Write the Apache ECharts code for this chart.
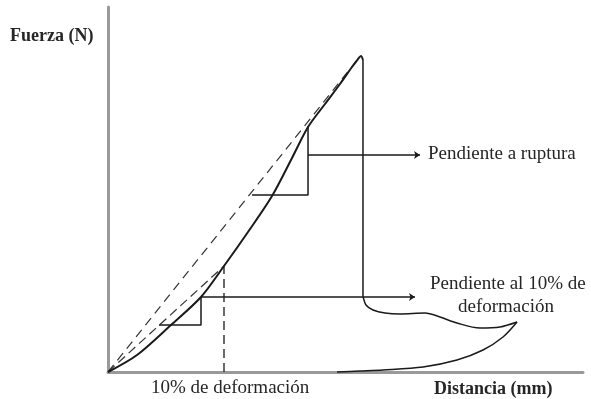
<!DOCTYPE html>
<html>
<head>
<meta charset="utf-8">
<script src="https://cdn.jsdelivr.net/npm/echarts@6/dist/echarts.min.js"></script>
<style>html,body{margin:0;padding:0;background:#fff;}#c{width:591px;height:399px;}</style>
</head>
<body>
<div id="c"></div>
<script>
// Data (x: distance, y: force, arbitrary units 0-100)
const loadCurve = [[0,0],[6.11,4.66],[13.26,12.88],[19.58,20.55],[24.42,29.04],[29.47,38.36],[34.53,48.22],[38.74,58.63],[42.11,67.12],[45.68,73.42],[48.84,78.9],[51.37,83.56],[52.63,85.75],[53.26,86.58],[53.68,85.48]];
const dropLine = [[53.68,85.48],[53.68,20.8]];
const tailOut = [[53.68,20.8],[54.32,18.36],[55.79,16.99],[58.32,16.16],[61.47,15.89],[66.74,16.16],[69.89,15.07],[73.47,13.42],[78.32,12.05],[82.53,12.33],[86.11,13.7]];
const tailBack = [[86.11,13.7],[83.16,9.59],[78.95,6.03],[73.47,3.29],[66.32,1.37],[57.89,0.55],[53.05,0.27],[48.21,0]];
const secantRupture = [[0,0],[52.63,85.75]];
const secant10 = [[0,0],[24.42,29.04]];
const strain10Line = [[24.42,0],[24.42,29.04]];
const triangle10 = [[10.74,12.88],[19.58,12.88],[19.58,20.55]];
const triangleRupture = [[30.32,48.49],[42.11,48.49],[42.11,67.4]];
const arrow10 = [[19.58,20.55],[64.63,20.55]];
const arrowRupture = [[42.11,59.45],[65.68,59.45]];
const labels = {
  yName: 'Fuerza (N)',
  xName: 'Distancia (mm)',
  strain: '10% de deformación',
  rupture: 'Pendiente a ruptura',
  slope10a: 'Pendiente al 10% de',
  slope10b: 'deformación'
};

const ink = '#1a1a1a';
const serif = '"Liberation Serif", "DejaVu Serif", serif';
function lineSeries(data, opts) {
  return Object.assign({
    type: 'line', data: data, symbol: 'none', silent: true, clip: false,
    smooth: false, animation: false,
    lineStyle: { color: ink, width: 1.5 }
  }, opts || {});
}
function arrowSeries(pts) {
  return {
    type: 'line', data: [], silent: true, animation: false,
    markLine: {
      silent: true, animation: false, symbol: ['none', 'arrow'], symbolSize: 6,
      label: { show: false },
      lineStyle: { color: ink, width: 1.5, type: 'solid' },
      data: [[{ coord: pts[0] }, { coord: pts[1] }]]
    }
  };
}

const chart = echarts.init(document.getElementById('c'), null, { renderer: 'canvas' });
chart.setOption({
  backgroundColor: '#fff',
  animation: false,
  grid: { left: 108, right: 8, top: 7, bottom: 27 },
  xAxis: {
    type: 'value', min: 0, max: 100,
    axisLine: { show: true, lineStyle: { color: '#9a9a9a', width: 3 } },
    axisTick: { show: false }, axisLabel: { show: false }, splitLine: { show: false }
  },
  yAxis: {
    type: 'value', min: 0, max: 100,
    axisLine: { show: true, lineStyle: { color: '#9a9a9a', width: 3 } },
    axisTick: { show: false }, axisLabel: { show: false }, splitLine: { show: false }
  },
  series: [
    lineSeries(secantRupture, { lineStyle: { color: '#333', width: 1.2, type: [9, 6] } }),
    lineSeries(secant10, { lineStyle: { color: '#333', width: 1.2, type: [9, 5] } }),
    lineSeries(strain10Line, { lineStyle: { color: ink, width: 1.3, type: [9, 5] } }),
    lineSeries(loadCurve, { smooth: 0.3, lineStyle: { color: ink, width: 2 } }),
    lineSeries(dropLine),
    lineSeries(tailOut, { smooth: 0.3 }),
    lineSeries(tailBack, { smooth: 0.3 }),
    lineSeries(triangle10),
    lineSeries(triangleRupture),
    arrowSeries(arrow10),
    arrowSeries(arrowRupture)
  ],
  graphic: [
    { type: 'text', left: 10, top: 27, style: { text: labels.yName, font: 'bold 18px ' + serif, fill: '#262626' } },
    { type: 'text', left: 434, top: 380, style: { text: labels.xName, font: 'bold 18px ' + serif, fill: '#262626' } },
    { type: 'text', left: 151, top: 379, style: { text: labels.strain, font: '19px ' + serif, fill: '#262626' } },
    { type: 'text', left: 428, top: 145, style: { text: labels.rupture, font: '19px ' + serif, fill: '#262626' } },
    { type: 'text', left: 430, top: 275, style: { text: labels.slope10a, font: '19px ' + serif, fill: '#262626' } },
    { type: 'text', left: 458, top: 298, style: { text: labels.slope10b, font: '19px ' + serif, fill: '#262626' } }
  ]
});
</script>
</body>
</html>
